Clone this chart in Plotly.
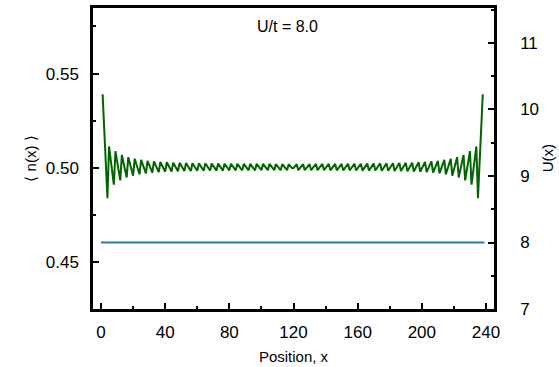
import plotly.graph_objects as go

# Lattice sites carrying the density profile (open chain)
density_sites = list(range(1, 239))
# Site-resolved density <n(x)>, Friedel-like oscillations near the open edges
density = [
    0.5390, 0.5206, 0.5022, 0.4838,
    0.5113, 0.5045, 0.4978, 0.4910,
    0.5088, 0.5036, 0.4985, 0.4933,
    0.5068, 0.5028, 0.4988, 0.4948,
    0.5056, 0.5023, 0.4991, 0.4958,
    0.5048, 0.5020, 0.4993, 0.4965,
    0.5042, 0.5018, 0.4994, 0.4970,
    0.5037, 0.5016, 0.4995, 0.4974,
    0.5034, 0.5015, 0.4996, 0.4977,
    0.5031, 0.5014, 0.4996, 0.4979,
    0.5029, 0.5013, 0.4996, 0.4980,
    0.5027, 0.5012, 0.4996, 0.4981,
    0.5026, 0.5011, 0.4997, 0.4982,
    0.5025, 0.5011, 0.4997, 0.4983,
    0.5024, 0.5011, 0.4997, 0.4984,
    0.5023, 0.5010, 0.4997, 0.4984,
    0.5023, 0.5010, 0.4998, 0.4985,
    0.5022, 0.5010, 0.4997, 0.4985,
    0.5022, 0.5010, 0.4997, 0.4985,
    0.5021, 0.5009, 0.4998, 0.4986,
    0.5021, 0.5009, 0.4998, 0.4986,
    0.5021, 0.5009, 0.4998, 0.4986,
    0.5020, 0.5009, 0.4997, 0.4986,
    0.5020, 0.5009, 0.4997, 0.4986,
    0.5020, 0.5009, 0.4998, 0.4987,
    0.5020, 0.5009, 0.4998, 0.4987,
    0.5020, 0.5009, 0.4998, 0.4987,
    0.5019, 0.5008, 0.4998, 0.4987,
    0.5019, 0.5008, 0.4998, 0.4987,
    0.5019, 0.5008, 0.4998,
    0.4998, 0.5008, 0.5019,
    0.4987, 0.4998, 0.5008, 0.5019,
    0.4987, 0.4998, 0.5008, 0.5019,
    0.4987, 0.4998, 0.5009, 0.5020,
    0.4987, 0.4998, 0.5009, 0.5020,
    0.4987, 0.4998, 0.5009, 0.5020,
    0.4986, 0.4997, 0.5009, 0.5020,
    0.4986, 0.4997, 0.5009, 0.5020,
    0.4986, 0.4998, 0.5009, 0.5021,
    0.4986, 0.4998, 0.5009, 0.5021,
    0.4986, 0.4998, 0.5009, 0.5021,
    0.4985, 0.4997, 0.5010, 0.5022,
    0.4985, 0.4997, 0.5010, 0.5022,
    0.4985, 0.4998, 0.5010, 0.5023,
    0.4984, 0.4997, 0.5010, 0.5023,
    0.4984, 0.4997, 0.5011, 0.5024,
    0.4983, 0.4997, 0.5011, 0.5025,
    0.4982, 0.4997, 0.5011, 0.5026,
    0.4981, 0.4996, 0.5012, 0.5027,
    0.4980, 0.4996, 0.5013, 0.5029,
    0.4979, 0.4996, 0.5014, 0.5031,
    0.4977, 0.4996, 0.5015, 0.5034,
    0.4974, 0.4995, 0.5016, 0.5037,
    0.4970, 0.4994, 0.5018, 0.5042,
    0.4965, 0.4993, 0.5020, 0.5048,
    0.4958, 0.4991, 0.5023, 0.5056,
    0.4948, 0.4988, 0.5028, 0.5068,
    0.4933, 0.4985, 0.5036, 0.5088,
    0.4910, 0.4978, 0.5045, 0.5113,
    0.4838, 0.5022, 0.5206, 0.5390,
]

# Uniform on-site interaction U(x)
potential_sites = list(range(0, 240))
potential = [8.0] * 240

x_ticks = [0, 40, 80, 120, 160, 200, 240]
n_ticks = [0.45, 0.50, 0.55]
u_ticks = [7, 8, 9, 10, 11]

FONT = "Arial, Liberation Sans, Helvetica, sans-serif"
GREEN = "#006400"
BLUE = "#2f7aa3"

fig = go.Figure()
fig.add_trace(go.Scatter(
    x=potential_sites, y=potential, mode="lines",
    line=dict(color=BLUE, width=2), yaxis="y2", showlegend=False,
))
fig.add_trace(go.Scatter(
    x=density_sites, y=density, mode="lines",
    line=dict(color=GREEN, width=2), showlegend=False,
))

axis_common = dict(
    showgrid=False, zeroline=False, showline=True, linecolor="black",
    linewidth=2.5, ticks="inside", ticklen=6, tickwidth=2, tickcolor="black",
    tickfont=dict(family=FONT, size=17, color="black"), automargin=False,
)

fig.update_layout(
    width=559, height=367,
    margin=dict(l=93, r=65, t=8, b=58),
    plot_bgcolor="white", paper_bgcolor="white",
    xaxis=dict(
        **axis_common, range=[-5, 245], tickvals=x_ticks, mirror=True,
        minor=dict(dtick=20, tick0=0, ticks="inside", ticklen=3, tickwidth=2,
                   tickcolor="black"),
        ticklabelstandoff=6,
        title=dict(text="Position, x", font=dict(family=FONT, size=15, color="black"),
                   standoff=11),
    ),
    yaxis=dict(
        **axis_common, range=[0.425, 0.5848], tickvals=n_ticks, tickformat=".2f",
        mirror=True,
        minor=dict(dtick=0.025, tick0=0.45, ticks="inside", ticklen=3, tickwidth=2,
                   tickcolor="black"),
        ticklabelstandoff=8,
        title=dict(text="\u27e8 n(x) \u27e9", font=dict(family=FONT, size=15, color="black"),
                   standoff=6),
    ),
    yaxis2=dict(
        **axis_common, range=[7, 11.526], tickvals=u_ticks, overlaying="y",
        side="right",
        minor=dict(dtick=0.5, tick0=7, ticks="inside", ticklen=3, tickwidth=2,
                   tickcolor="black"),
        ticklabelstandoff=20,
    ),
    annotations=[
        dict(
            text="U/t = 8.0", x=0.486, y=0.937, xref="paper", yref="paper",
            xanchor="center", yanchor="middle", showarrow=False,
            font=dict(family=FONT, size=16, color="black"),
        ),
        # right-axis title, placed beside the U(x) tick labels
        dict(
            text="U(x)", x=1.134, y=0.5, xref="paper", yref="paper",
            xanchor="center", yanchor="middle", textangle=-90, showarrow=False,
            borderpad=0, font=dict(family=FONT, size=15, color="black"),
        ),
    ],
)

fig.write_html("out.html")
